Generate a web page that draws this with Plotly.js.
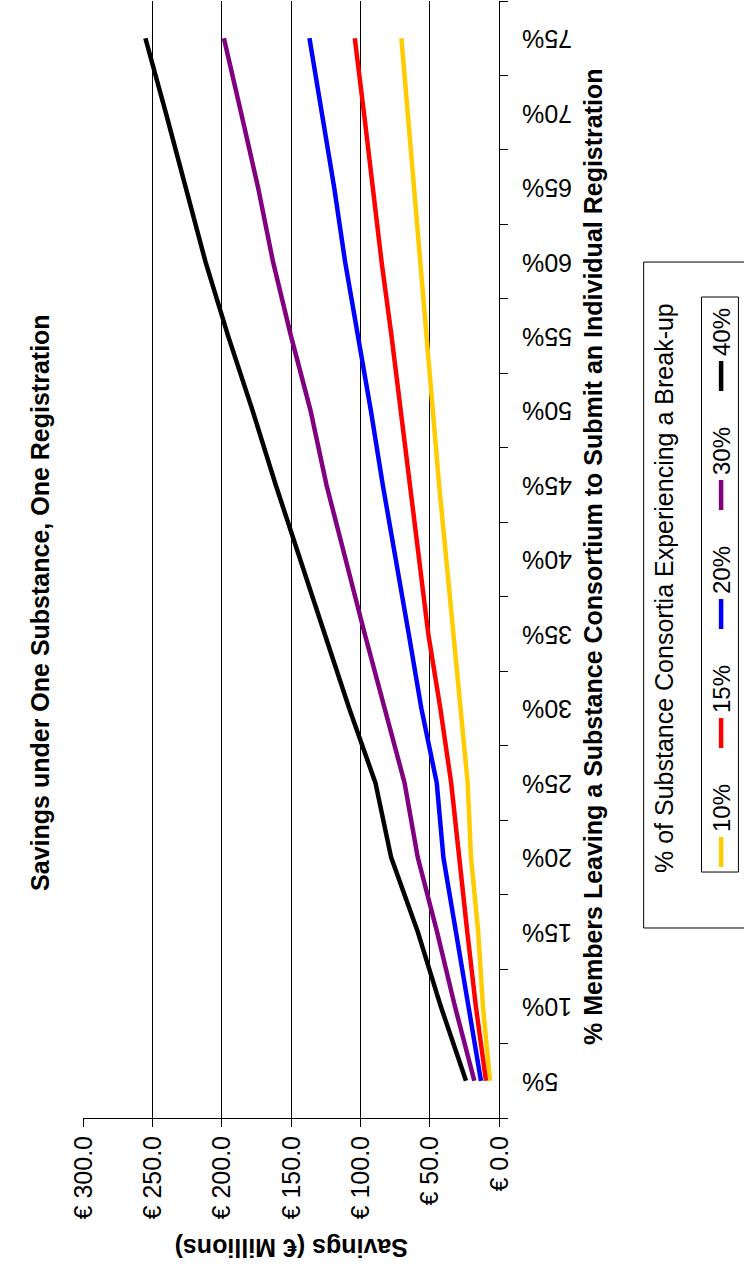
<!DOCTYPE html>
<html>
<head>
<meta charset="utf-8">
<script src="https://cdn.plot.ly/plotly-3.0.1.min.js"></script>
<style>
html,body{margin:0;padding:0;width:744px;height:1274px;overflow:hidden;background:#fff;}
#chart{position:absolute;left:0;top:0;width:1274px;height:744px;transform-origin:0 0;transform:translate(0,1274px) rotate(-90deg);}
</style>
</head>
<body>
<div id="chart"></div>
<script>
const categories = ['5%','10%','15%','20%','25%','30%','35%','40%','45%','50%','55%','60%','65%','70%','75%'];
const seriesNames = ['10%','15%','20%','30%','40%'];
const s10 = [6.5, 11.6, 15.0, 20.2, 22.6, 28.0, 32.8, 38.0, 43.2, 47.5, 52.3, 56.8, 61.3, 65.8, 70.4];
const s15 = [9.4, 16.7, 22.9, 29.1, 34.5, 42.3, 51.0, 57.6, 64.1, 70.3, 77.5, 84.7, 90.8, 97.4, 104.0];
const s20 = [13.0, 21.9, 30.8, 40.1, 44.9, 56.0, 65.1, 74.5, 83.8, 92.4, 101.6, 111.0, 118.9, 127.8, 136.7];
const s30 = [17.8, 31.8, 44.7, 58.6, 68.1, 82.6, 96.8, 110.6, 124.4, 135.9, 150.0, 163.0, 173.8, 186.0, 198.4];
const s40 = [23.8, 42.0, 58.6, 77.8, 89.1, 108.0, 125.7, 143.6, 161.0, 177.7, 195.3, 211.7, 225.6, 240.3, 255.0];
const seriesValues = [s10, s15, s20, s30, s40];
const colors = ['#FFCC00', '#FF0000', '#0000FF', '#800080', '#000000'];

const FONT = 'Liberation Sans, Arial, sans-serif';

const traces = seriesValues.map((vals, i) => ({
  type: 'scatter',
  mode: 'lines',
  name: seriesNames[i],
  x: categories,
  y: vals,
  line: {color: colors[i], width: 4.5},
  hoverinfo: 'skip'
}));

const layout = {
  width: 1274,
  height: 744,
  autosize: false,
  margin: {l: 156, r: 1, t: 83, b: 244, pad: 0},
  paper_bgcolor: '#ffffff',
  plot_bgcolor: '#ffffff',
  font: {family: FONT, size: 24, color: '#000'},
  hovermode: false,
  title: {
    text: 'Savings under One Substance, One Registration',
    font: {family: FONT, size: 25, weight: 'bold', color: '#000'},
    xref: 'container', x: 0.527, xanchor: 'center',
    yref: 'container', y: 0.946, yanchor: 'middle'
  },
  xaxis: {
    type: 'category',
    range: [-0.5, 14.5],
    tickson: 'boundaries',
    ticks: 'outside', ticklen: 8, tickwidth: 1, tickcolor: '#000',
    tickangle: -90,
    ticklabelstandoff: 12,
    tickfont: {family: FONT, size: 25, color: '#000'},
    showgrid: false,
    showline: true, linecolor: '#000', linewidth: 1,
    zeroline: false,
    automargin: false,
    fixedrange: true
  },
  yaxis: {
    range: [0, 300],
    dtick: 50,
    tickprefix: '€ ',
    tickformat: '.1f',
    ticks: 'outside', ticklen: 8, tickwidth: 1, tickcolor: '#000',
    ticklabelstandoff: 4,
    tickfont: {family: FONT, size: 25, color: '#000'},
    showgrid: true, gridcolor: '#000', gridwidth: 1,
    showline: true, linecolor: '#000', linewidth: 1,
    zeroline: false,
    automargin: false,
    fixedrange: true
  },
  showlegend: true,
  legend: {
    orientation: 'h',
    x: 0.2202, xanchor: 'left',
    y: -0.5312, yanchor: 'middle',
    borderwidth: 0,
    bgcolor: 'rgba(0,0,0,0)',
    font: {family: FONT, size: 24, color: '#000'},
    entrywidth: 74, entrywidthmode: 'pixels',
    traceorder: 'normal'
  },
  annotations: [
    {
      text: 'Savings (€ Millions)',
      xref: 'paper', yref: 'paper', x: -0.1164, y: 0.5,
      xanchor: 'center', yanchor: 'middle', textangle: -90, showarrow: false,
      font: {family: FONT, size: 25, weight: 'bold', color: '#000'}
    },
    {
      text: '% Members Leaving a Substance Consortium to Submit an Individual Registration',
      xref: 'paper', yref: 'paper', x: 0.503, y: -0.2254,
      xanchor: 'center', yanchor: 'middle', showarrow: false,
      font: {family: FONT, size: 25, weight: 'bold', color: '#000'}
    },
    {
      text: '% of Substance Consortia Experiencing a Break-up',
      xref: 'paper', yref: 'paper', x: 0.4745, y: -0.3957,
      xanchor: 'center', yanchor: 'middle', showarrow: false,
      font: {family: FONT, size: 25, color: '#000'}
    }
  ],
  shapes: [
    {
      type: 'rect', xref: 'paper', yref: 'paper',
      x0: 0.1701, x1: 0.7663, y0: -0.3477, y1: -0.66,
      line: {color: '#000', width: 1}, fillcolor: 'rgba(0,0,0,0)'
    },
    {
      type: 'rect', xref: 'paper', yref: 'paper',
      x0: 0.2202, x1: 0.735, y0: -0.4868, y1: -0.5755,
      line: {color: '#000', width: 1}, fillcolor: 'rgba(0,0,0,0)'
    }
  ]
};

Plotly.newPlot('chart', traces, layout, {displayModeBar: false, staticPlot: true});
</script>
</body>
</html>
